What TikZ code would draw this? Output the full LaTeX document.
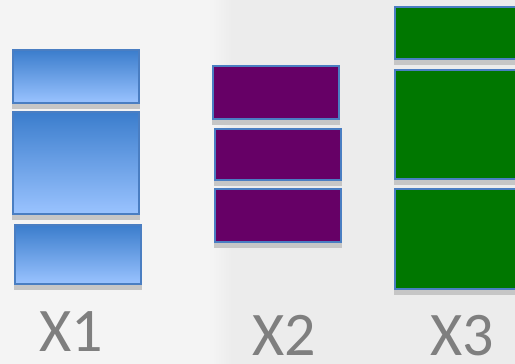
\documentclass[tikz,border=0pt]{standalone}
\usepackage{fontspec}
\setmainfont{Carlito}
\usetikzlibrary{calc}
\definecolor{bgL}{HTML}{F4F4F4}
\definecolor{bgR}{HTML}{ECECEC}
\definecolor{blueTop}{HTML}{3B7DCC}
\definecolor{blueBot}{HTML}{9AC3FF}
\definecolor{edgeBlue}{HTML}{4A7EC2}
\definecolor{purpleFill}{HTML}{660066}
\definecolor{greenFill}{HTML}{007700}
\definecolor{shadowC}{HTML}{C6C6C6}
\definecolor{labelC}{HTML}{7F7F7F}
\pgfdeclarelayer{bglayer}
\pgfdeclarelayer{shadowlayer}
\pgfsetlayers{bglayer,shadowlayer,main}
\begin{document}
\begin{tikzpicture}[x=1pt,y=-1pt,
  box/.style={draw=edgeBlue, line width=1.6pt, anchor=north west, inner sep=0pt, outer sep=0pt},
  bluebox/.style={box, top color=blueTop, bottom color=blueBot},
  purplebox/.style={box, fill=purpleFill},
  greenbox/.style={box, fill=greenFill},
  lbl/.style={text=labelC, font=\fontsize{62}{62}\selectfont, anchor=base, inner sep=0pt}]
\useasboundingbox (0,0) rectangle (515,364);
\begin{pgfonlayer}{bglayer}
\fill[bgL] (0,0) rectangle (212,364);
\fill[bgR] (232,0) rectangle (515,364);
\shade[left color=bgL, right color=bgR] (212,0) rectangle (232,364);
\end{pgfonlayer}
% X1
\node[bluebox, minimum width=126pt, minimum height=53pt] (a1) at (13,50) {};
\node[bluebox, minimum width=126pt, minimum height=102pt] (a2) at (13,112) {};
\node[bluebox, minimum width=126pt, minimum height=59pt] (a3) at (15,225) {};
% X2
\node[purplebox, minimum width=126pt, minimum height=53pt] (b1) at (213,66) {};
\node[purplebox, minimum width=126pt, minimum height=51pt] (b2) at (215,129) {};
\node[purplebox, minimum width=126pt, minimum height=53pt] (b3) at (215,189) {};
% X3
\node[greenbox, minimum width=130pt, minimum height=52pt] (c1) at (395,7) {};
\node[greenbox, minimum width=130pt, minimum height=109pt] (c2) at (395,70) {};
\node[greenbox, minimum width=130pt, minimum height=100pt] (c3) at (395,189) {};
\begin{pgfonlayer}{shadowlayer}
\foreach \n in {a1,a2,a3,b1,b2,b3,c1,c2,c3}{
  \fill[shadowC] ($(\n.north west)+(-1,6)$) rectangle ($(\n.south east)+(1,6)$);
}
\end{pgfonlayer}
\node[lbl] (l1) at (71,351) {X1};
\node[lbl] (l2) at (284,355) {X2};
\node[lbl] (l3) at (462,355) {X3};
\end{tikzpicture}
\end{document}
